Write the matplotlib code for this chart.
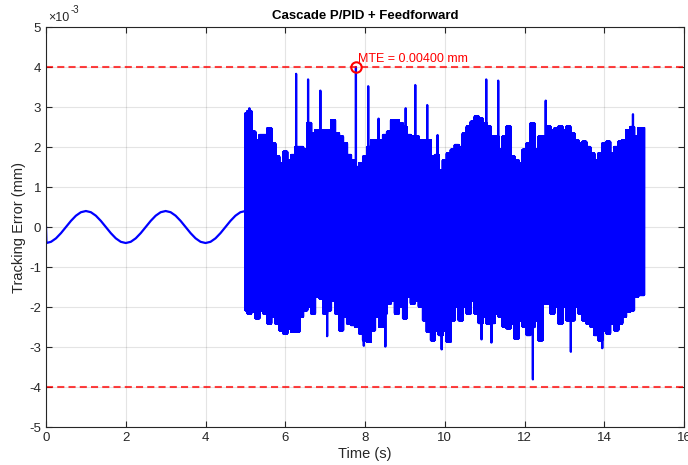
import matplotlib

matplotlib.use("Agg")
import matplotlib.pyplot as plt
import numpy as np
from matplotlib.ticker import FuncFormatter, MultipleLocator

plt.rcParams["font.family"] = ["Liberation Sans", "DejaVu Sans"]
plt.rcParams["axes.unicode_minus"] = False

# Reference tracking phase (0-5 s), error in 1e-3 mm, sampled every 0.125 s
sine_t = [0.0, 0.01] + [0.125 * k for k in range(1, 41)]
sine_err = [0.0, -0.400,
            -0.370, -0.283, -0.153, 0.000, 0.153, 0.283, 0.370, 0.400,
            0.370, 0.283, 0.153, 0.000, -0.153, -0.283, -0.370, -0.400,
            -0.370, -0.283, -0.153, 0.000, 0.153, 0.283, 0.370, 0.400,
            0.370, 0.283, 0.153, 0.000, -0.153, -0.283, -0.370, -0.400,
            -0.370, -0.283, -0.153, 0.000, 0.153, 0.283, 0.370, 0.400]

# Disturbed phase (5-15 s): upper / lower envelope of the error every 0.1 s
env_t0 = 5.0
env_dt = 0.1
env_upper = [2.84, 2.90, 2.38, 2.17, 2.30, 2.30, 2.47, 2.09, 1.76, 1.59,
             1.88, 1.67, 1.80, 2.00, 2.00, 1.93, 2.60, 2.34, 2.42, 2.42,
             2.42, 2.42, 2.67, 2.34, 2.26, 2.09, 1.80, 1.67, 1.50, 1.59,
             1.76, 2.00, 2.17, 2.17, 2.17, 2.30, 2.38, 2.67, 2.67, 2.59,
             2.50, 2.30, 2.26, 2.26, 2.17, 2.17, 2.17, 1.76, 1.80, 1.42,
             1.67, 1.84, 1.93, 2.05, 2.00, 2.34, 2.51, 2.63, 2.76, 2.71,
             2.59, 2.51, 2.26, 2.26, 1.93, 2.26, 2.51, 1.76, 1.67, 1.59,
             1.93, 2.09, 2.59, 1.93, 2.26, 2.26, 2.51, 2.42, 2.47, 2.51,
             2.42, 2.51, 2.34, 2.17, 2.09, 2.13, 2.00, 1.84, 1.67, 1.84,
             2.09, 2.13, 1.84, 2.00, 2.13, 2.17, 2.42, 2.50, 2.26, 2.47,
             2.47]
env_lower = [-2.08, -2.16, -2.12, -2.28, -2.08, -2.16, -2.41, -2.24, -2.41, -2.58,
             -2.66, -2.53, -2.62, -2.62, -2.24, -2.08, -1.99, -2.16, -1.74, -1.78,
             -2.16, -2.08, -1.83, -2.16, -2.58, -2.24, -2.41, -2.45, -2.49, -2.66,
             -2.83, -2.87, -2.58, -2.24, -2.49, -2.16, -1.91, -1.83, -2.16, -1.99,
             -2.28, -1.74, -1.91, -1.83, -1.99, -2.33, -2.62, -2.83, -2.58, -2.70,
             -2.58, -2.87, -2.33, -1.99, -2.33, -1.99, -2.16, -1.83, -2.16, -2.40,
             -2.24, -2.41, -2.40, -2.16, -2.24, -2.49, -2.53, -2.41, -2.79, -2.33,
             -2.49, -2.70, -2.50, -2.33, -2.83, -1.91, -1.91, -2.16, -1.99, -2.41,
             -1.99, -2.33, -2.33, -1.99, -2.16, -2.33, -2.41, -2.49, -2.70, -2.83,
             -2.58, -2.66, -2.41, -2.58, -2.41, -2.24, -2.12, -2.08, -1.74, -1.70,
             -1.70]

# Isolated peaks standing out of the envelope
spike_t = [5.10, 6.27, 6.57, 6.88, 7.77, 8.08, 8.34, 9.02, 9.26, 9.56,
           9.82, 11.04, 11.34, 12.53, 14.72,
           7.05, 7.97, 8.51, 9.92, 10.92, 11.17, 12.21, 13.16, 13.95]
spike_err = [2.97, 3.83, 3.69, 3.41, 4.00, 3.52, 2.71, 2.97, 3.55, 3.05,
             2.30, 3.69, 3.66, 3.16, 2.82,
             -2.73, -2.97, -2.99, -3.06, -2.81, -2.89, -3.81, -3.12, -3.03]

mte_t = 7.77
mte_err = 4.00
limit = 4.0

# dense oscillating trace built from the envelope readings
dt = 0.002
t_noise = env_t0 + dt * np.arange(int(round(10.0 / dt)) + 1)
idx = np.clip(np.round((t_noise - env_t0) / env_dt).astype(int), 0, len(env_upper) - 1)
upper = np.array(env_upper)[idx]
lower = np.array(env_lower)[idx]
e_noise = np.where(np.arange(len(t_noise)) % 2 == 0, upper, lower)
for ts, vs in zip(spike_t, spike_err):
    i = int(round((ts - env_t0) / dt))
    if (i % 2 == 0) != (vs > 0):
        i += 1
    e_noise[i] = vs

t_all = np.concatenate([sine_t, t_noise])
e_all = np.concatenate([sine_err, e_noise]) * 1e-3

fig = plt.figure(figsize=(6.88, 4.65), dpi=100)
ax = fig.add_axes([0.0669, 0.0817, 0.9273, 0.8602])

ax.plot(t_all, e_all, color=(0, 0, 1), linewidth=1.6)
for y in (limit, -limit):
    ax.axhline(y * 1e-3, color="red", alpha=0.75, linewidth=1.5, linestyle=(0, (3.4, 2.0)))

ax.plot(mte_t, mte_err * 1e-3, "o", markersize=7.5, markerfacecolor="none",
        markeredgecolor="red", markeredgewidth=1.5)
ax.text(mte_t + 0.05, mte_err * 1e-3 + 0.05e-3, f"MTE = {mte_err * 1e-3:.5f} mm",
        color="red", fontsize=9, ha="left", va="bottom")

ax.set_xlim(0, 16)
ax.set_ylim(-5e-3, 5e-3)
ax.xaxis.set_major_locator(MultipleLocator(2))
ax.yaxis.set_major_locator(MultipleLocator(1e-3))
ax.yaxis.set_major_formatter(FuncFormatter(lambda v, _: f"{round(v * 1e3):d}"))

tc = (0.15, 0.15, 0.15)
ax.grid(True, color=(0.15, 0.15, 0.15), alpha=0.12, linewidth=0.8)
ax.tick_params(direction="in", top=True, right=True, length=4, width=0.8,
               colors=tc, labelsize=9.5, labelcolor=tc)
for s in ax.spines.values():
    s.set_color(tc)
    s.set_linewidth(0.8)

# exponent label, MATLAB style
ax.text(0.003, 1.008, "\u00d710", transform=ax.transAxes, fontsize=9, color=tc,
        ha="left", va="bottom")
ax.text(0.039, 1.03, "-3", transform=ax.transAxes, fontsize=7, color=tc,
        ha="left", va="bottom")

ax.set_xlabel("Time (s)", fontsize=10.5, color=tc, labelpad=2)
ax.set_ylabel("Tracking Error (mm)", fontsize=10.5, color=tc, labelpad=2)
ax.set_title("Cascade P/PID + Feedforward", fontsize=9.5, fontweight="bold",
             color=(0, 0, 0), pad=6)

fig.savefig("out.png", dpi=100)
